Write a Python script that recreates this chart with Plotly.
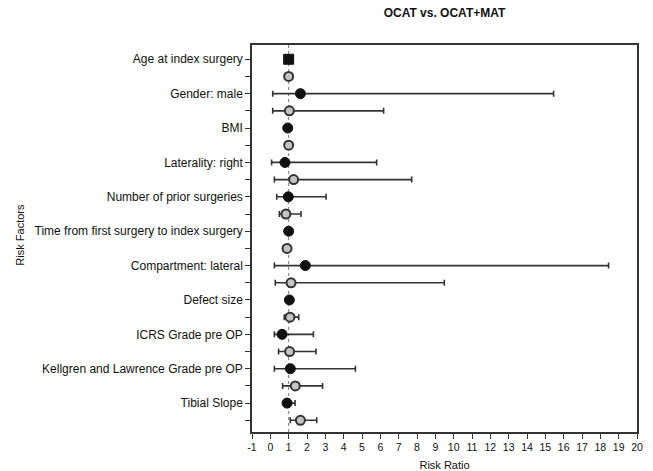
import plotly.graph_objects as go

factors = ["Age at index surgery", "Gender: male", "BMI", "Laterality: right",
           "Number of prior surgeries", "Time from first surgery to index surgery",
           "Compartment: lateral", "Defect size", "ICRS Grade pre OP",
           "Kellgren and Lawrence Grade pre OP", "Tibial Slope"]

ocat_rr = [1.0, 1.64, 0.95, 0.80, 0.98, 1.0, 1.91, 1.04, 0.64, 1.09, 0.91]
ocat_lo = [0.98, 0.13, 0.90, 0.07, 0.35, 0.97, 0.22, 0.98, 0.22, 0.22, 0.76]
ocat_hi = [1.02, 15.45, 1.00, 5.80, 3.04, 1.03, 18.45, 1.10, 2.35, 4.64, 1.35]

mat_rr = [1.0, 1.04, 1.0, 1.27, 0.85, 0.91, 1.13, 1.07, 1.05, 1.36, 1.64]
mat_lo = [0.98, 0.13, 0.97, 0.22, 0.49, 0.88, 0.27, 0.76, 0.45, 0.67, 1.09]
mat_hi = [1.02, 6.18, 1.03, 7.71, 1.67, 0.94, 9.49, 1.55, 2.49, 2.85, 2.53]

x_ticks = list(range(-1, 21))

n = len(factors)
y_ocat = [2 * i + 1 for i in range(n)]
y_mat = [2 * i + 2 for i in range(n)]

font_family = "Liberation Sans, Arial, sans-serif"
ink = "#111111"

fig = go.Figure()

fig.add_vline(x=1, line=dict(color="#777777", width=1, dash="dot"), layer="below")

fig.add_trace(go.Scatter(
    x=ocat_rr, y=y_ocat, mode="markers",
    marker=dict(symbol=["square"] + ["circle"] * (n - 1), size=10, color=ink,
                line=dict(color=ink, width=1)),
    error_x=dict(type="data", symmetric=False,
                 array=[h - r for h, r in zip(ocat_hi, ocat_rr)],
                 arrayminus=[r - l for r, l in zip(ocat_rr, ocat_lo)],
                 color="#333333", thickness=1.6, width=3),
    name="OCAT", showlegend=False))

fig.add_trace(go.Scatter(
    x=mat_rr, y=y_mat, mode="markers",
    marker=dict(symbol="circle", size=9, color="#c4c4c4",
                line=dict(color="#333333", width=2)),
    error_x=dict(type="data", symmetric=False,
                 array=[h - r for h, r in zip(mat_hi, mat_rr)],
                 arrayminus=[r - l for r, l in zip(mat_rr, mat_lo)],
                 color="#333333", thickness=1.6, width=3),
    name="OCAT+MAT", showlegend=False))

tickvals = list(range(1, 2 * n + 1))
ticktext = []
for v in tickvals:
    ticktext.append(factors[(v - 1) // 2] if v % 2 == 1 else "")

fig.update_layout(
    width=653, height=471,
    margin=dict(l=252, r=16, t=45, b=39, autoexpand=False),
    paper_bgcolor="white", plot_bgcolor="white",
    font=dict(family=font_family, size=11, color=ink),
    title=dict(text="<b>OCAT vs. OCAT+MAT</b>", x=0.5, xref="paper",
               y=1 - 13 / 471, yref="container", xanchor="center", yanchor="middle",
               font=dict(size=12, color=ink)),
    xaxis=dict(range=[-1, 20], tickvals=x_ticks, ticktext=[str(t) for t in x_ticks],
               automargin=False,
               showgrid=False, zeroline=False, showline=True, linecolor="#333333",
               linewidth=1.5, mirror=True, ticks="outside", ticklen=5,
               tickcolor="#333333", tickwidth=1.2,
               tickfont=dict(size=10.5, color=ink),
               title=dict(text="Risk Ratio", font=dict(size=11, color=ink))),
    yaxis=dict(range=[22.68, 0.17], tickvals=tickvals, ticktext=ticktext,
               automargin=False,
               showgrid=False, zeroline=False, showline=True, linecolor="#333333",
               linewidth=1.5, mirror=True, ticks="outside", ticklen=5,
               tickcolor="#333333", tickwidth=1.2,
               tickfont=dict(size=12, color=ink)),
    annotations=[dict(text="Risk Factors", textangle=-90, showarrow=False,
                      xref="paper", yref="paper", x=0, y=0.51,
                      xanchor="center", yanchor="middle", xshift=-232,
                      font=dict(size=11, color=ink))],
)

fig.write_html("out.html", config={"displayModeBar": False},
               post_script="document.body.style.margin='0';")
